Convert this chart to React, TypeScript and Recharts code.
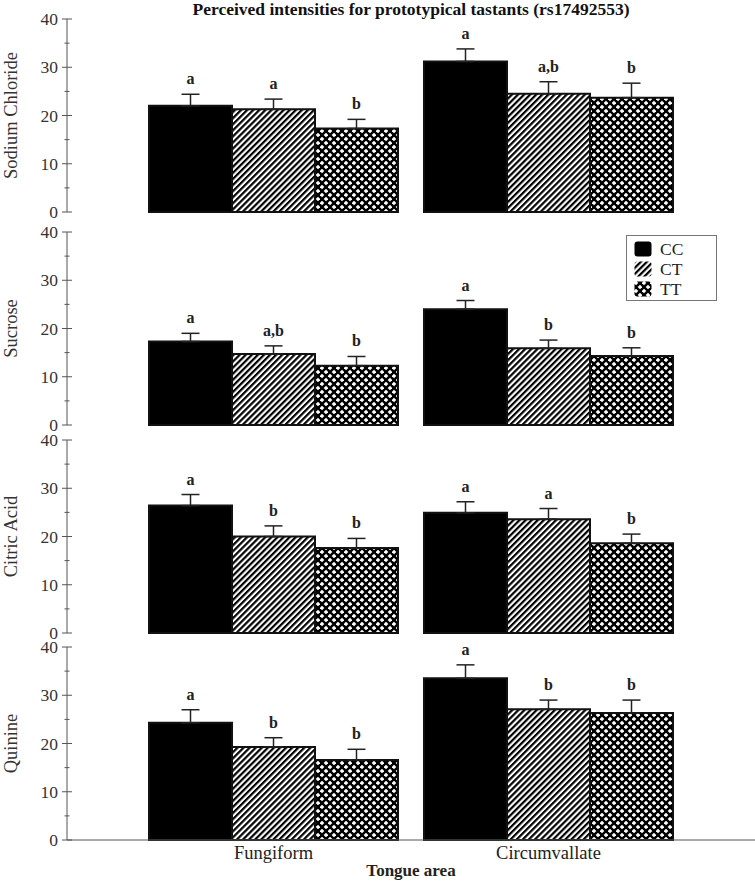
import React from 'react';
import { BarChart, Bar, XAxis, YAxis, ErrorBar, LabelList, Legend } from 'recharts';

const areas = ['Fungiform', 'Circumvallate'];
const genotypes = ['CC', 'CT', 'TT'];
const tastants = ['Sodium Chloride', 'Sucrose', 'Citric Acid', 'Quinine'];
const yTicks = [0, 5, 10, 15, 20, 25, 30, 35, 40];

// [area][genotype]
const sodiumMeans = [[22.0, 21.3, 17.3], [31.2, 24.5, 23.7]];
const sodiumErrors = [[2.4, 2.1, 1.9], [2.6, 2.5, 3.0]];
const sodiumLetters = [['a', 'a', 'b'], ['a', 'a,b', 'b']];

const sucroseMeans = [[17.3, 14.7, 12.3], [24.0, 15.9, 14.3]];
const sucroseErrors = [[1.7, 1.7, 1.9], [1.8, 1.7, 1.7]];
const sucroseLetters = [['a', 'a,b', 'b'], ['a', 'b', 'b']];

const citricMeans = [[26.4, 20.0, 17.6], [24.9, 23.6, 18.6]];
const citricErrors = [[2.3, 2.2, 2.0], [2.3, 2.2, 1.9]];
const citricLetters = [['a', 'b', 'b'], ['a', 'a', 'b']];

const quinineMeans = [[24.3, 19.3, 16.6], [33.5, 27.1, 26.3]];
const quinineErrors = [[2.7, 1.9, 2.2], [2.8, 1.9, 2.7]];
const quinineLetters = [['a', 'b', 'b'], ['a', 'b', 'b']];

const panelMeans = [sodiumMeans, sucroseMeans, citricMeans, quinineMeans];
const panelErrors = [sodiumErrors, sucroseErrors, citricErrors, quinineErrors];
const panelLetters = [sodiumLetters, sucroseLetters, citricLetters, quinineLetters];

const FONT = "'Liberation Serif', 'Times New Roman', serif";
const plotTops = [19, 232, 440, 647];
const PLOT_H = 193;

function buildRows(p: number) {
  return areas.map((area, a) => {
    const row: any = { area };
    genotypes.forEach((g, k) => {
      row[g] = panelMeans[p][a][k];
      row[g + 'Err'] = [0, panelErrors[p][a][k]];
      row[g + 'Lbl'] = panelLetters[p][a][k];
    });
    return row;
  });
}

const fillFor = (g: string, p: number) =>
  g === 'CC' ? '#000' : g === 'CT' ? `url(#stripes-${p})` : `url(#dots-${p})`;

const YTick = (props: any) => {
  const { x, y, payload } = props;
  const major = payload.value % 10 === 0;
  const half = major ? 5 : 2.5;
  return (
    <g>
      <line x1={x - half} x2={x + half} y1={y} y2={y} stroke="#555" strokeWidth={1} />
      {major && (
        <text x={x - 9} y={y} dy="0.35em" textAnchor="end" fontSize={17.5} fill="#333" fontFamily={FONT}>
          {payload.value}
        </text>
      )}
    </g>
  );
};

const makeLabel = (p: number, k: number) => (props: any) => {
  const { x, y, width, height, index } = props;
  const mean = panelMeans[p][index][k];
  const err = panelErrors[p][index][k];
  const perUnit = Math.abs(height) / mean;
  const top = Math.min(y, y + height) - err * perUnit;
  return (
    <text x={x + width / 2} y={top - 10} textAnchor="middle" fontSize={16} fontWeight="bold" fill="#222" fontFamily={FONT}>
      {panelLetters[p][index][k]}
    </text>
  );
};

const LegendBox = () => (
  <div
    style={{
      border: '1px solid #777',
      background: '#fff',
      padding: '3px 0 0 7px',
      boxSizing: 'border-box',
      width: 91,
      height: 66,
      fontFamily: FONT,
      fontSize: 17.5,
      color: '#222',
    }}
  >
    {genotypes.map((g) => (
      <div key={g} style={{ display: 'flex', alignItems: 'center', height: 20 }}>
        <svg width={18} height={16} style={{ marginRight: 8 }}>
          <rect x={0.5} y={0.5} width={17} height={15} rx={3} fill={fillFor(g, 1)} />
        </svg>
        <span>{g}</span>
      </div>
    ))}
  </div>
);

function Panel({ p }: { p: number }) {
  const last = p === tastants.length - 1;
  const marginTop = 10;
  const marginBottom = last ? 46 : 10;
  const top = plotTops[p] - marginTop;
  return (
    <div style={{ position: 'absolute', left: 0, top }}>
      <BarChart
        width={755}
        height={PLOT_H + marginTop + marginBottom}
        data={buildRows(p)}
        margin={{ top: marginTop, right: 0, bottom: last ? 0 : marginBottom, left: 0 }}
        barGap={0}
        barSize={83}
      >
        <defs>
          <pattern id={`stripes-${p}`} patternUnits="userSpaceOnUse" width={4.3} height={4.3} patternTransform="rotate(45)">
            <rect width={4.3} height={4.3} fill="#fff" />
            <rect width={2.2} height={4.3} fill="#000" />
          </pattern>
          <pattern id={`dots-${p}`} patternUnits="userSpaceOnUse" width={8} height={8}>
            <rect width={8} height={8} fill="#000" />
            <polygon points="2,-0.3 4.3,2 2,4.3 -0.3,2" fill="#fff" />
            <polygon points="6,3.7 8.3,6 6,8.3 3.7,6" fill="#fff" />
          </pattern>
        </defs>
        <XAxis
          dataKey="area"
          hide={!last}
          height={last ? 46 : 0}
          padding={{ left: 69, right: 69 }}
          axisLine={{ stroke: '#555' }}
          tickLine={false}
          tickSize={0}
          tickMargin={6}
          interval={0}
          tick={{ fontSize: 18.5, fill: '#222', fontFamily: FONT }}
          label={
            last
              ? {
                  content: (lp: any) => {
                    const vb = lp.viewBox;
                    return (
                      <text x={vb.x + vb.width / 2} y={vb.y + 36} textAnchor="middle" fontSize={17} fontWeight="bold" fill="#222" fontFamily={FONT}>
                        Tongue area
                      </text>
                    );
                  },
                }
              : undefined
          }
        />
        <YAxis
          domain={[0, 40]}
          ticks={yTicks}
          interval={0}
          width={67}
          axisLine={{ stroke: '#555' }}
          tickLine={false}
          tickSize={0}
          tickMargin={0}
          tick={<YTick />}
          label={{
            content: (lp: any) => {
              const vb = lp.viewBox;
              const cy = vb.y + vb.height / 2;
              return (
                <text x={17} y={cy} transform={`rotate(-90, 17, ${cy})`} textAnchor="middle" fontSize={18.5} fill="#333" fontFamily={FONT}>
                  {tastants[p]}
                </text>
              );
            },
          }}
        />
        {p === 1 && (
          <Legend
            layout="horizontal"
            verticalAlign="middle"
            align="center"
            content={<LegendBox />}
            wrapperStyle={{ position: 'absolute', left: 626, top: 235 - top, width: 91, height: 66 }}
          />
        )}
        {genotypes.map((g, k) => (
          <Bar key={g} dataKey={g} name={g} fill={fillFor(g, p)} stroke="#111" strokeWidth={2} isAnimationActive={false}>
            <ErrorBar dataKey={g + 'Err'} direction="y" width={9} stroke="#222" strokeWidth={1.5} />
            <LabelList dataKey={g + 'Lbl'} content={makeLabel(p, k)} />
          </Bar>
        ))}
      </BarChart>
    </div>
  );
}

export default function App() {
  return (
    <div style={{ position: 'absolute', left: 0, top: 0, width: 755, height: 886, background: '#fff', fontFamily: FONT }}>
      <div
        style={{
          position: 'absolute',
          left: 67,
          width: 688,
          top: 0,
          textAlign: 'center',
          fontSize: 17.5,
          fontWeight: 'bold',
          color: '#111',
          lineHeight: '18px',
        }}
      >
        Perceived intensities for prototypical tastants (rs17492553)
      </div>
      {tastants.map((t, p) => (
        <Panel key={t} p={p} />
      ))}
    </div>
  );
}
